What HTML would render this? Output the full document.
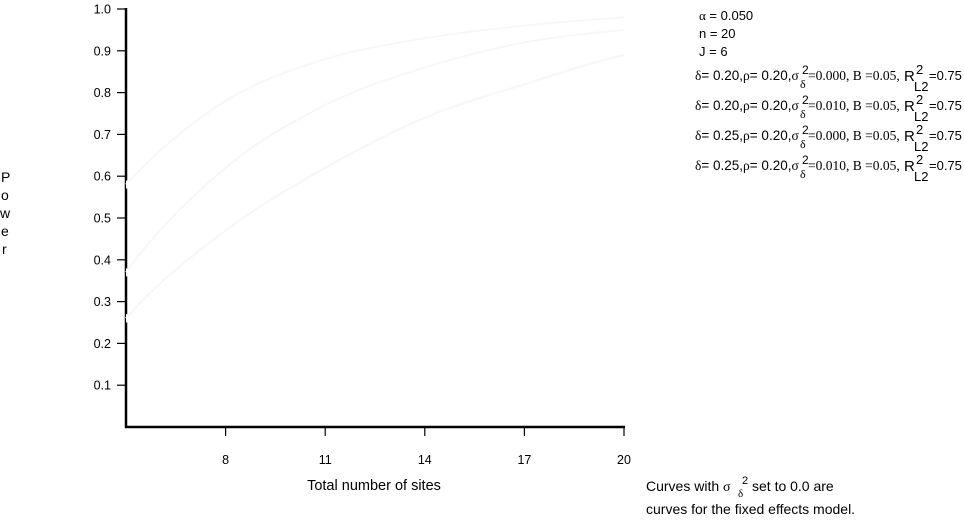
<!DOCTYPE html>
<html><head><meta charset="utf-8"><style>
body{margin:0;background:#fff;width:964px;height:519px;overflow:hidden;font-family:"Liberation Sans",sans-serif}
svg text{font-family:"Liberation Sans",sans-serif;font-size:12.5px;fill:#000}
.s{font-family:"Liberation Serif",serif}
</style></head><body>
<svg id="chart" width="964" height="519" xmlns="http://www.w3.org/2000/svg">
<g id="axes"></g>
<g id="series"></g>
<text x="7" y="182" style="font-size:14px"><tspan x="1" dy="0">P</tspan><tspan x="1" dy="18">o</tspan><tspan x="0" dy="18">w</tspan><tspan x="1" dy="18">e</tspan><tspan x="2" dy="18">r</tspan></text>
<text x="374" y="490" text-anchor="middle" style="font-size:14.5px">Total number of sites</text>
<g>
<text x="699" y="20" style="font-size:13px"><tspan class="s">α</tspan> = 0.050</text>
<text x="699" y="38" style="font-size:13px">n = 20</text>
<text x="699" y="56" style="font-size:13px">J = 6</text>
<g id="legrows"></g>
</g>
<g>
<text x="646" y="491" style="font-size:14px">Curves with <tspan class="s">σ</tspan></text>
<text x="742" y="484" style="font-size:11px">2</text>
<text x="738" y="497" class="s" style="font-size:11px">δ</text>
<text x="752" y="491" style="font-size:14px">set to 0.0 are</text>
<text x="646" y="514" style="font-size:14px">curves for the fixed effects model.</text>
</g>
</svg>
<script>
const sites=[5,8,11,14,17,20];
const xTicks=[8,11,14,17,20];
const yTicks=[0.1,0.2,0.3,0.4,0.5,0.6,0.7,0.8,0.9,1.0];
const powerA=[0.58,0.78,0.88,0.93,0.96,0.98];
const powerB=[0.37,0.62,0.77,0.86,0.92,0.95];
const powerC=[0.26,0.47,0.62,0.74,0.82,0.89];
const powerD=[0.26,0.47,0.62,0.74,0.82,0.89];
const legendDelta=["0.20","0.20","0.25","0.25"];
const legendSigma=["0.000","0.010","0.000","0.010"];
const NS="http://www.w3.org/2000/svg";
const X=v=>126+(v-5)*(498/15);
const Y=v=>427-v*418;
function mk(t,a,p){const e=document.createElementNS(NS,t);for(const k in a)e.setAttribute(k,a[k]);p.appendChild(e);return e;}
const ax=document.getElementById('axes');
let l=mk('line',{x1:126,y1:8,x2:126,y2:428,stroke:'#000','stroke-width':2.5},ax);


l=mk('line',{x1:125,y1:427,x2:625,y2:427,stroke:'#000','stroke-width':2.5},ax);


yTicks.forEach(v=>{const y=Y(v);
 const t=mk('line',{x1:117,y1:y,x2:126,y2:y,stroke:'#000','stroke-width':1.2},ax);
 
 
 const tx=mk('text',{x:111,y:y+4.5,'text-anchor':'end'},ax);tx.textContent=v.toFixed(1);
 
 });
xTicks.forEach(v=>{const x=X(v);
 const t=mk('line',{x1:x,y1:427,x2:x,y2:436,stroke:'#000','stroke-width':1.2},ax);
 
 
 const tx=mk('text',{x:x,y:464,'text-anchor':'middle'},ax);tx.textContent=v;
 
 });
const sg=document.getElementById('series');
[powerA,powerB,powerC,powerD].forEach((arr,i)=>{
 let d='';for(let k=0;k<sites.length-1;k++){
  const x0=X(sites[k]),x1=X(sites[k+1]),y0=Y(arr[k]),y1=Y(arr[k+1]);
  if(k===0)d+='M'+x0+','+y0;
  const pm=k>0?(arr[k+1]-arr[k-1])/2:(arr[1]-arr[0])*1.3;
  const pn=k<sites.length-2?(arr[k+2]-arr[k])/2:(arr[k+1]-arr[k])*0.8;
  d+=' C'+(x0+(x1-x0)/3)+','+Y(arr[k]+pm/3)+' '+(x1-(x1-x0)/3)+','+Y(arr[k+1]-pn/3)+' '+x1+','+y1;}
 const p=mk('path',{d:d,fill:'none',stroke:'#f7f7f7','stroke-width':2},sg);
 
 
 const m=mk('line',{x1:127,y1:Y(arr[0])-4,x2:127,y2:Y(arr[0])+4,stroke:'#fff','stroke-width':2},sg);
 
 
});
const lg=document.getElementById('legrows');
legendDelta.forEach((dv,i)=>{const y=80+i*30;
 const g=mk('g',{},lg);
 
 
 g.innerHTML='<text x="695" y="'+y+'" style="font-size:13.5px"><tspan class="s">δ</tspan>= '+dv+',<tspan class="s">ρ</tspan>= 0.20,<tspan class="s">σ</tspan></text>'+
 '<text x="802" y="'+(y-6)+'" style="font-size:12px">2</text><text x="800" y="'+(y+8)+'" class="s" style="font-size:12px">δ</text>'+
 '<text x="808" y="'+y+'" class="s" style="font-size:13.5px">=0.'+legendSigma[i].slice(2)+', B =0.05,</text>'+
 '<text x="904" y="'+(y+1)+'" style="font-size:15px">R</text><text x="916" y="'+(y-6)+'" style="font-size:13px">2</text>'+
 '<text x="914" y="'+(y+11)+'" style="font-size:13px">L2</text><text x="929" y="'+y+'" style="font-size:13px">=0.75</text>';
});
</script>
</body></html>
